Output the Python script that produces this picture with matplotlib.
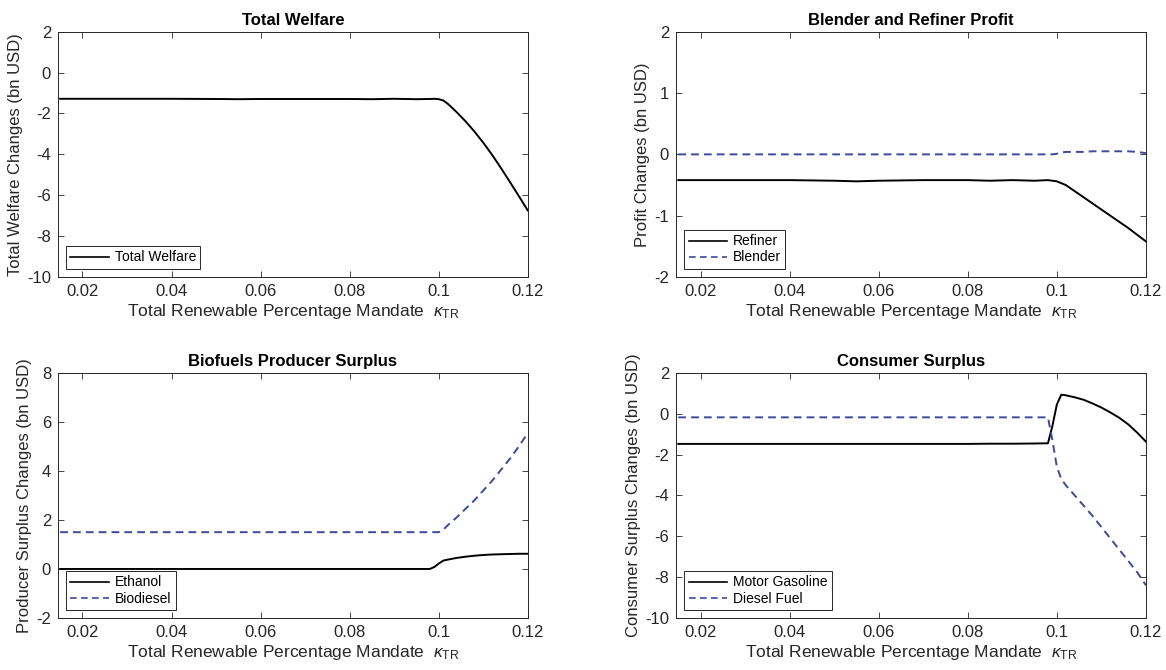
import matplotlib
matplotlib.use("Agg")
import matplotlib.pyplot as plt
import numpy as np

plt.rcParams["font.family"] = ["Liberation Sans", "DejaVu Sans"]
plt.rcParams["axes.unicode_minus"] = False
plt.rcParams["mathtext.fontset"] = "custom"
plt.rcParams["mathtext.it"] = "Liberation Sans:italic"
plt.rcParams["mathtext.rm"] = "Liberation Sans"

# mandate grid shared by all series
kappa = [0.015, 0.02, 0.03, 0.04, 0.05, 0.055, 0.06, 0.07, 0.08, 0.085, 0.09, 0.095,
         0.098, 0.099, 0.1, 0.101, 0.102, 0.104, 0.106, 0.108, 0.11, 0.112, 0.114,
         0.116, 0.118, 0.12]

total_welfare = [-1.28, -1.28, -1.28, -1.28, -1.29, -1.3, -1.29, -1.29, -1.29, -1.3,
                 -1.28, -1.3, -1.29, -1.28, -1.3, -1.36, -1.52, -1.93, -2.38, -2.88,
                 -3.43, -4.03, -4.68, -5.36, -6.05, -6.75]

refiner = [-0.42, -0.42, -0.42, -0.42, -0.43, -0.44, -0.43, -0.42, -0.42, -0.43,
           -0.42, -0.43, -0.42, -0.43, -0.44, -0.47, -0.5, -0.6, -0.7, -0.8,
           -0.9, -1.0, -1.1, -1.2, -1.31, -1.42]
blender = [0.0, 0.0, 0.0, 0.0, 0.0, 0.0, 0.0, 0.0, 0.0, 0.0,
           0.0, 0.0, 0.0, 0.0, 0.01, 0.03, 0.04, 0.04, 0.04, 0.05,
           0.05, 0.05, 0.05, 0.05, 0.04, 0.02]

ethanol = [0.0, 0.0, 0.0, 0.0, 0.0, 0.0, 0.0, 0.0, 0.0, 0.0,
           0.0, 0.0, 0.0, 0.08, 0.22, 0.34, 0.38, 0.45, 0.5, 0.54,
           0.57, 0.59, 0.6, 0.61, 0.62, 0.62]
biodiesel = [1.5, 1.5, 1.5, 1.5, 1.5, 1.5, 1.5, 1.5, 1.5, 1.5,
             1.5, 1.5, 1.5, 1.5, 1.5, 1.6, 1.78, 2.1, 2.45, 2.8,
             3.2, 3.6, 4.05, 4.5, 5.0, 5.55]

gasoline = [-1.48, -1.48, -1.48, -1.48, -1.48, -1.48, -1.48, -1.48, -1.48, -1.47,
            -1.47, -1.46, -1.45, -0.6, 0.45, 0.93, 0.9, 0.8, 0.68, 0.5,
            0.3, 0.06, -0.2, -0.52, -0.92, -1.37]
diesel = [-0.18, -0.18, -0.18, -0.18, -0.18, -0.18, -0.18, -0.18, -0.18, -0.18,
          -0.18, -0.18, -0.18, -1.3, -2.6, -3.2, -3.5, -4.0, -4.5, -5.0,
          -5.55, -6.1, -6.65, -7.2, -7.75, -8.4]

xticks = [0.02, 0.04, 0.06, 0.08, 0.1, 0.12]
xticklabels = ["0.02", "0.04", "0.06", "0.08", "0.1", "0.12"]

navy = "#3d4a9c"
axis_grey = "#262626"


def style_axes(ax, title, ylabel, ylim, ystep):
    ax.set_xlim(0.0145, 0.12)
    ax.set_ylim(*ylim)
    ax.set_xticks(xticks, xticklabels)
    yt = np.arange(ylim[0], ylim[1] + 0.001, ystep)
    ax.set_yticks(yt, [str(int(v)) for v in yt])
    ax.tick_params(direction="in", top=True, right=True, labelsize=12,
                   length=4, width=0.6, colors=axis_grey, labelcolor=axis_grey, pad=5)
    for s in ax.spines.values():
        s.set_color(axis_grey)
        s.set_linewidth(0.7)
    ax.set_title(title, fontsize=12, fontweight="bold", pad=5)
    ax.set_ylabel(ylabel, fontsize=12, color=axis_grey, labelpad=3)
    ax.set_xlabel(r"Total Renewable Percentage Mandate  $\kappa_{\mathrm{TR}}$",
                  fontsize=12.5, color=axis_grey, labelpad=2)


def add_legend(ax):
    leg = ax.legend(loc="lower left", fontsize=10, fancybox=False, framealpha=1,
                    edgecolor=axis_grey, borderpad=0.3, handlelength=2.8,
                    handletextpad=0.4, labelspacing=0.15, borderaxespad=0.6)
    leg.get_frame().set_linewidth(0.7)
    for line in leg.get_lines():
        line.set_linewidth(1.2)


fig = plt.figure(figsize=(11.66, 6.70), dpi=100)
w, h = 0.403, 0.366
ax1 = fig.add_axes([0.0497, 0.5866, w, h])
ax2 = fig.add_axes([0.5798, 0.5866, w, h])
ax3 = fig.add_axes([0.0497, 0.0776, w, h])
ax4 = fig.add_axes([0.5798, 0.0776, w, h])

dash = (0, (4, 2.6))
lw = 1.4

ax1.plot(kappa, total_welfare, color="black", lw=lw, label="Total Welfare")
style_axes(ax1, "Total Welfare", "Total Welfare Changes (bn USD)", (-10, 2), 2)
add_legend(ax1)

ax2.plot(kappa, refiner, color="black", lw=lw, label="Refiner")
ax2.plot(kappa, blender, color=navy, lw=lw, ls=dash, label="Blender")
style_axes(ax2, "Blender and Refiner Profit", "Profit Changes (bn USD)", (-2, 2), 1)
add_legend(ax2)

ax3.plot(kappa, ethanol, color="black", lw=lw, label="Ethanol")
ax3.plot(kappa, biodiesel, color=navy, lw=lw, ls=dash, label="Biodiesel")
style_axes(ax3, "Biofuels Producer Surplus", "Producer Surplus Changes (bn USD)", (-2, 8), 2)
add_legend(ax3)

ax4.plot(kappa, gasoline, color="black", lw=lw, label="Motor Gasoline")
ax4.plot(kappa, diesel, color=navy, lw=lw, ls=dash, label="Diesel Fuel")
style_axes(ax4, "Consumer Surplus", "Consumer Surplus Changes (bn USD)", (-10, 2), 2)
add_legend(ax4)

fig.savefig("out.png", dpi=100)
